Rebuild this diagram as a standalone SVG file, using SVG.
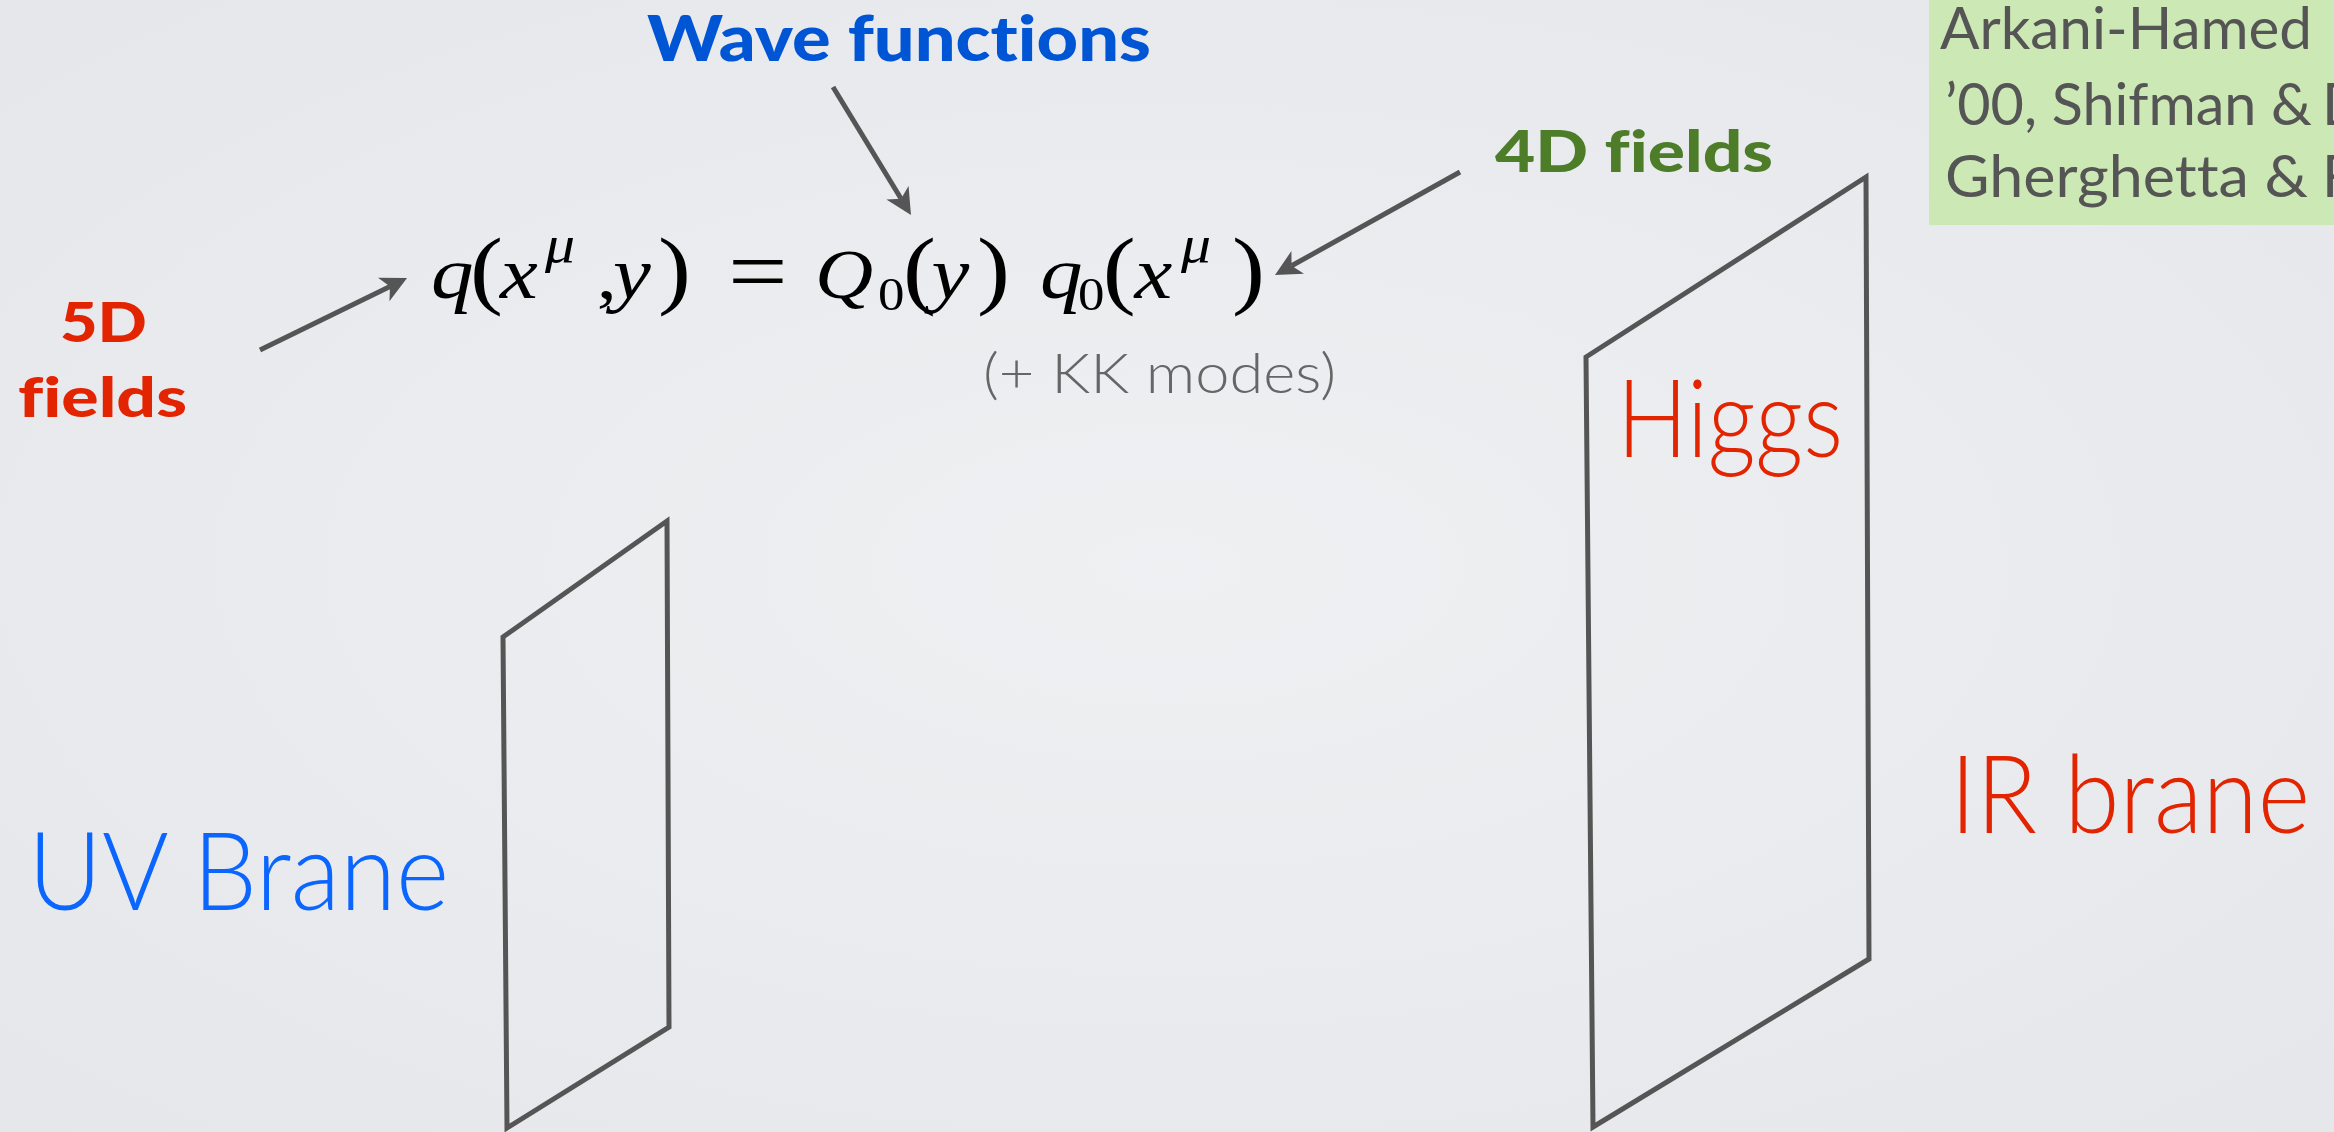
<svg xmlns="http://www.w3.org/2000/svg" width="2334" height="1132" viewBox="0 0 2334 1132">
  <defs>
    <radialGradient id="bg" cx="0.5" cy="0.5" r="0.75">
      <stop offset="0" stop-color="#eff0f2"/>
      <stop offset="1" stop-color="#e5e6ea"/>
    </radialGradient>
    <marker id="ah" markerUnits="userSpaceOnUse" viewBox="0 -14 28 28" markerWidth="28" markerHeight="28" refX="7" refY="0" orient="auto">
      <path d="M26,0 L0,-13 L7,0 L0,13 Z" fill="#555555"/>
    </marker>
    <style>
      .light { font-family: Lato, "Open Sans", "Liberation Sans", sans-serif; font-weight: 300; font-variant-ligatures: none; }
      .bold { font-family: Lato, "Open Sans", "Liberation Sans", sans-serif; font-weight: 900; font-variant-ligatures: none; }
      .red { fill: #e32400; }
      .plane { fill: none; stroke: #555555; stroke-width: 5; stroke-linejoin: miter; }
      .conn { stroke: #555555; stroke-width: 5; fill: none; marker-end: url(#ah); }
      .eq { font-family: "Liberation Serif", "DejaVu Serif", serif; font-size: 70px; fill: #000000; }
      .it { font-style: italic; font-size: 74px; }
      .cap { font-style: italic; font-size: 70px; }
      .par { font-size: 86px; font-style: normal; }
      .sup { font-size: 52px; font-style: italic; }
      .sub { font-size: 46px; }
    </style>
  </defs>

  <rect x="0" y="0" width="2334" height="1132" fill="url(#bg)"/>

  <g id="reference-box">
    <rect x="1929" y="0" width="405" height="225" fill="#cce8b4"/>
    <text class="light" font-size="58" fill="#555555" style="font-weight:400">
      <tspan x="1940" y="49" textLength="372" lengthAdjust="spacingAndGlyphs">Arkani-Hamed</tspan>
      <tspan x="1945" y="125" textLength="367" lengthAdjust="spacingAndGlyphs">’00, Shifman &amp;</tspan>
      <tspan x="2322" y="125">D</tspan>
      <tspan x="1945" y="197" textLength="363" lengthAdjust="spacingAndGlyphs">Gherghetta &amp;</tspan>
      <tspan x="2322" y="197">F</tspan>
    </text>
  </g>

  <g id="wave-functions">
    <text class="bold" x="647" y="61" font-size="62" fill="#0055d5" textLength="504" lengthAdjust="spacingAndGlyphs">Wave functions</text>
  </g>

  <g id="label-5d">
    <text class="bold red" font-size="56">
      <tspan x="60" y="342" textLength="87" lengthAdjust="spacingAndGlyphs">5D</tspan>
      <tspan x="18" y="417" textLength="169" lengthAdjust="spacingAndGlyphs">fields</tspan>
    </text>
  </g>

  <g id="label-4d">
    <text class="bold" x="1495" y="172" font-size="58" fill="#4e7d2a" textLength="278" lengthAdjust="spacingAndGlyphs">4D fields</text>
  </g>

  <g id="equation">
    <text class="eq" y="298" transform="scale(1.15,1)">
      <tspan x="374.8" class="it">q</tspan>
      <tspan x="408.7" class="par">(</tspan>
      <tspan x="434.8" class="it">x</tspan>
      <tspan x="474" y="262" class="sup">μ</tspan>
      <tspan x="519" y="298">,</tspan>
      <tspan x="533" class="it">y</tspan>
      <tspan x="572.2" class="par">)</tspan>
      <tspan x="633" y="302" font-size="92">=</tspan>
      <tspan x="708.7" y="298" class="cap">Q</tspan>
      <tspan x="763.5" y="310" class="sub">0</tspan>
      <tspan x="785.2" y="298" class="par">(</tspan>
      <tspan x="810" class="it">y</tspan>
      <tspan x="849.5" class="par">)</tspan>
      <tspan x="904.3" class="it">q</tspan>
      <tspan x="937.4" y="310" class="sub">0</tspan>
      <tspan x="959" y="298" class="par">(</tspan>
      <tspan x="986.5" class="it">x</tspan>
      <tspan x="1027" y="262" class="sup">μ</tspan>
      <tspan x="1071.3" y="298" class="par">)</tspan>
    </text>
    <text class="light" x="983" y="393" font-size="56" fill="#666666" textLength="353" lengthAdjust="spacingAndGlyphs">(+ KK modes)</text>
  </g>

  <g id="uv-brane">
    <polygon class="plane" points="503,637 667,521 669,1027 507,1128"/>
    <text class="light" x="28" y="910" font-size="108" fill="#0a66ff" textLength="421" lengthAdjust="spacingAndGlyphs">UV Brane</text>
  </g>

  <g id="ir-brane">
    <polygon class="plane" points="1586,357 1866,177 1869,959 1593,1127"/>
    <text class="light red" x="1617" y="457" font-size="108" textLength="226" lengthAdjust="spacingAndGlyphs">Higgs</text>
    <text class="light red" x="1950" y="833" font-size="108" textLength="360" lengthAdjust="spacingAndGlyphs">IR brane</text>
  </g>

  <g id="connectors">
    <line class="conn" x1="260" y1="350" x2="390" y2="286.4"/>
    <line class="conn" x1="833" y1="87" x2="901.1" y2="198.8"/>
    <line class="conn" x1="1460" y1="172" x2="1291.6" y2="265.8"/>
  </g>
</svg>
